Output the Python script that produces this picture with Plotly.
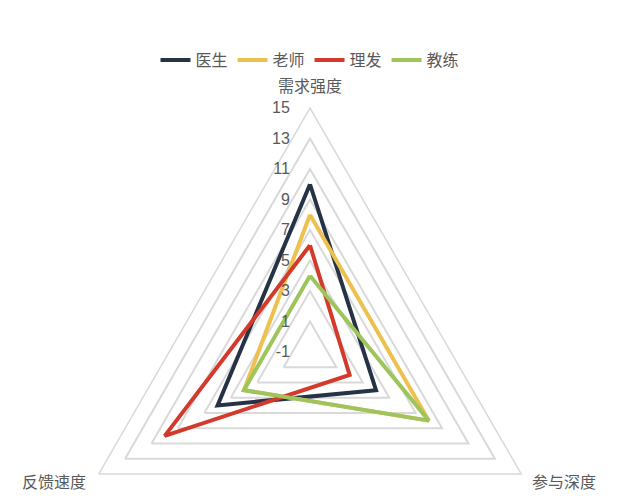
import plotly.graph_objects as go

# axes in clockwise order starting at the top
dims = ["需求强度", "参与深度", "反馈速度"]

doctor = [10, 4, 6]
teacher = [8, 8, 4]
barber = [6, 2, 10]
coach = [4, 8, 4]

series_names = ["医生", "老师", "理发", "教练"]
series_vals = [doctor, teacher, barber, coach]
series_colors = ["#263246", "#EDC14F", "#D33A2C", "#9DC55B"]

r_ticks = [-1, 1, 3, 5, 7, 9, 11, 13, 15]

W, H = 624, 600
OFF = 8  # page body margin


def px(x):
    return (x - OFF) / W


def py(y):
    return 1 - (y - OFF) / H


fig = go.Figure()
for name, vals, col in zip(series_names, series_vals, series_colors):
    fig.add_trace(go.Scatterpolar(
        r=vals + vals[:1],
        theta=dims + dims[:1],
        mode="lines",
        name=name,
        line=dict(color=col, width=4),
    ))

# axis names placed like the original
label_pos = {"需求强度": (310, 85), "参与深度": (564, 481), "反馈速度": (54, 481)}
for d in dims:
    x, y = label_pos[d]
    fig.add_annotation(text=d, x=px(x), y=py(y), xref="paper", yref="paper",
                       showarrow=False, xanchor="center", yanchor="middle",
                       font=dict(family="Noto Sans CJK SC", size=16, color="#595959"))

# circle of the polar area: centre (310, 352), radius 244 on screen
cx, cy, R = 310, 352, 244
fig.update_layout(
    width=W, height=H,
    margin=dict(l=0, r=0, t=0, b=0),
    paper_bgcolor="white",
    font=dict(family="Liberation Sans, Noto Sans CJK SC", size=15, color="#595959"),
    showlegend=True,
    legend=dict(orientation="h", x=px(310), xanchor="center", y=py(60), yanchor="middle",
                itemwidth=30, font=dict(family="Noto Sans CJK SC", size=16, color="#595959")),
    polar=dict(
        domain=dict(x=[px(cx - R), px(cx + R)], y=[py(cy + R), py(cy - R)]),
        gridshape="linear",
        bgcolor="white",
        angularaxis=dict(
            rotation=90, direction="clockwise",
            showgrid=False, showline=True, linecolor="#D9D9D9", linewidth=1.5,
            ticks="", showticklabels=False,
        ),
        radialaxis=dict(
            range=[-1, 15], tickvals=r_ticks, ticktext=[str(v) for v in r_ticks],
            angle=90, side="counterclockwise", tickangle=90,
            showline=False, ticks="outside", ticklen=14, tickcolor="rgba(0,0,0,0)",
            gridcolor="#D9D9D9", gridwidth=1.5,
            tickfont=dict(family="Liberation Sans", size=16, color="#595959"),
        ),
    ),
)

fig.write_html("out.html")
